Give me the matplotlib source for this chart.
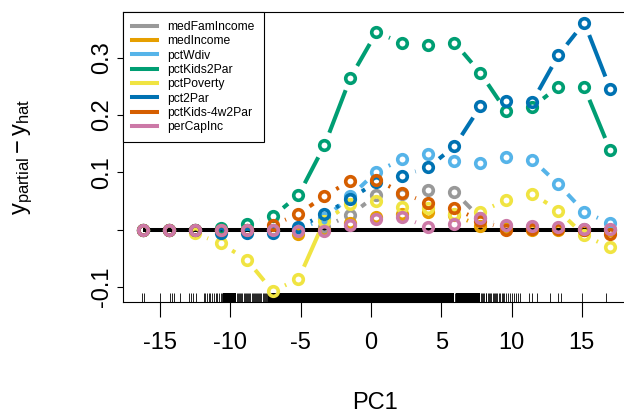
import numpy as np
import matplotlib
matplotlib.use('Agg')
from matplotlib import pyplot as plt
from matplotlib.lines import Line2D

plt.rcParams['font.family'] = ['Liberation Sans', 'DejaVu Sans']
plt.rcParams['mathtext.fontset'] = 'custom'
plt.rcParams['mathtext.rm'] = 'Liberation Sans'
plt.rcParams['mathtext.it'] = 'Liberation Sans:italic'
plt.rcParams['mathtext.bf'] = 'Liberation Sans:bold'
plt.rcParams['axes.unicode_minus'] = False

# grid of PC1 values where the partial fits were evaluated
pc1Grid = [-16.25, -14.40, -12.55, -10.70, -8.85, -7.00, -5.16, -3.31, -1.46, 0.39,
           2.24, 4.09, 5.94, 7.79, 9.64, 11.49, 13.34, 15.18, 17.03]

medFamIncome = [0, 0, 0, 0, 0, 0, 0.002, 0.005, 0.026, 0.060,
                0.062, 0.069, 0.066, 0.020, 0.006, 0.004, 0.002, 0.001, 0.0]
medIncome = [0, 0, 0, 0, 0, 0, -0.008, 0.0, 0.012, 0.022,
             0.028, 0.031, 0.026, 0.006, 0.002, 0.0, 0.0, 0.0, 0.0]
pctWdiv = [0, 0, 0, 0, 0, 0, 0, 0.020, 0.058, 0.101,
           0.123, 0.132, 0.119, 0.116, 0.127, 0.122, 0.079, 0.031, 0.011]
pctKids2Par = [0, 0, 0, 0.003, 0.010, 0.023, 0.060, 0.147, 0.265, 0.344,
               0.325, 0.321, 0.326, 0.273, 0.206, 0.214, 0.249, 0.248, 0.138]
pctPoverty = [0, 0, -0.006, -0.024, -0.052, -0.107, -0.086, 0.016, 0.045, 0.050,
              0.040, 0.037, 0.028, 0.031, 0.052, 0.063, 0.033, -0.010, -0.031]
pct2Par = [0, 0, 0, -0.005, -0.006, -0.006, 0.004, 0.027, 0.054, 0.083,
           0.094, 0.109, 0.145, 0.215, 0.225, 0.223, 0.304, 0.361, 0.245]
pctKids4w2Par = [0, 0, 0, 0, 0, 0.008, 0.027, 0.059, 0.085, 0.087,
                 0.064, 0.046, 0.037, 0.016, 0.000, 0.001, 0.001, 0.000, -0.008]
perCapInc = [0, 0, 0, 0, 0, 0, -0.003, -0.002, 0.008, 0.018,
             0.022, 0.004, 0.010, 0.020, 0.008, 0.006, 0.004, 0.002, 0.001]

seriesNames = ['medFamIncome', 'medIncome', 'pctWdiv', 'pctKids2Par',
               'pctPoverty', 'pct2Par', 'pctKids-4w2Par', 'perCapInc']
seriesValues = [medFamIncome, medIncome, pctWdiv, pctKids2Par,
                pctPoverty, pct2Par, pctKids4w2Par, perCapInc]
seriesColors = ['#999999', '#E69F00', '#56B4E9', '#009E73',
                '#F0E442', '#0072B2', '#D55E00', '#CC79A7']

# rug of observed PC1 values (single ticks) and ranges where the rug is saturated
rugTicks = [-16.27, -16.17, -15.0, -14.28, -14.19, -14.04, -13.57, -12.95, -12.79,
            -12.67, -12.43, -11.9, -11.8, -11.7, -11.55, -11.45, -11.3, -11.2,
            -11.05, -10.95, -10.8, -10.7, -10.6, -9.52, -9.45, -9.38, -9.3, -9.22,
            -9.15, -9.05, -8.97, -8.9, -8.82, -8.75, -8.65, -8.58, -8.5, -8.42,
            -8.35, -8.27, -8.2, -8.1, -8.02, -7.95, -7.87, -7.8, -7.72, -7.65,
            -7.57, -7.5, -7.42, -7.35, 5.98, 7.85, 7.92, 8.0, 8.07, 8.15, 8.22,
            8.3, 8.4, 8.47, 8.55, 8.65, 8.72, 8.8, 8.9, 9.0, 9.1, 9.2, 9.3, 9.4,
            9.5, 9.62, 9.75, 9.87, 10.0, 10.15, 10.3, 10.45, 10.6, 11.27, 11.45,
            11.8, 12.74, 13.29, 13.5, 15.0, 16.73]
rugDense = [(-10.5, -9.6), (-7.3, 5.9), (6.05, 7.78)]

xTicks = [-15, -10, -5, 0, 5, 10, 15]
xTickLabels = ['-15', '-10', '-5', '0', '5', '10', '15']
yTicks = [-0.1, 0.0, 0.1, 0.2, 0.3]
yTickLabels = ['-0.1', '', '0.1', '0.2', '0.3']

fig = plt.figure(figsize=(6.24, 4.16), dpi=100)
ax = fig.add_axes([123 / 624, 114 / 416, 504 / 624, 290 / 416])
ax.set_xlim(-17.65, 18.22)
ax.set_ylim(-0.126, 0.3793)

for side in ax.spines.values():
    side.set_linewidth(0.8)
    side.set_color('black')

ax.set_xticks(xTicks)
ax.set_xticklabels(xTickLabels, fontsize=17)
ax.set_yticks(yTicks)
ax.set_yticklabels(yTickLabels, fontsize=17, rotation=90, va='center')
ax.tick_params(axis='x', length=10.8, width=0.8, pad=11)
ax.tick_params(axis='y', length=4.3, width=0.8, pad=3)

ax.set_xlabel('PC1', fontsize=17)
ax.xaxis.set_label_coords(0.5, -0.31)
ax.set_ylabel(r'$\mathrm{y}_{\mathrm{partial}} - \mathrm{y}_{\mathrm{hat}}$', fontsize=17)
ax.yaxis.set_label_coords(-0.175, 0.5)

# zero reference line
ax.plot([pc1Grid[0], pc1Grid[-1]], [0, 0], color='black', lw=2.9,
        solid_capstyle='butt', zorder=1)

# rug
rugTrans = ax.get_xaxis_transform()
ax.vlines(rugTicks, 0, 0.031, transform=rugTrans, color='black', lw=0.6, zorder=1)
for lo, hi in rugDense:
    ax.fill_between([lo, hi], 0, 0.031, transform=rugTrans, color='black',
                    lw=0, zorder=1)

# type="b" style: segments stop short of each point
gapPx = 13.5
toData = ax.transData.inverted()
for i, (vals, col) in enumerate(zip(seriesValues, seriesColors)):
    pts = ax.transData.transform(np.column_stack([pc1Grid, vals]))
    for p0, p1 in zip(pts[:-1], pts[1:]):
        d = p1 - p0
        L = np.hypot(d[0], d[1])
        if L <= 2 * gapPx:
            continue
        q0 = toData.transform(p0 + d / L * gapPx)
        q1 = toData.transform(p1 - d / L * gapPx)
        ax.plot([q0[0], q1[0]], [q0[1], q1[1]], color=col, lw=2.9,
                solid_capstyle='butt', zorder=2 + i)
    ax.plot(pc1Grid, vals, linestyle='none', marker='o', markersize=6.9,
            markerfacecolor='none', markeredgecolor=col, markeredgewidth=2.6,
            zorder=2 + i)

handles = [Line2D([], [], color=c, lw=2.9) for c in seriesColors]
leg = ax.legend(handles, seriesNames, loc='upper left', fontsize=8.7,
                borderaxespad=0, fancybox=False, edgecolor='black',
                framealpha=1, handlelength=2.1, handletextpad=0.8,
                labelspacing=0.19, borderpad=0.75)
leg.get_frame().set_linewidth(0.8)
leg.set_zorder(20)

plt.savefig('out.png', dpi=100)
